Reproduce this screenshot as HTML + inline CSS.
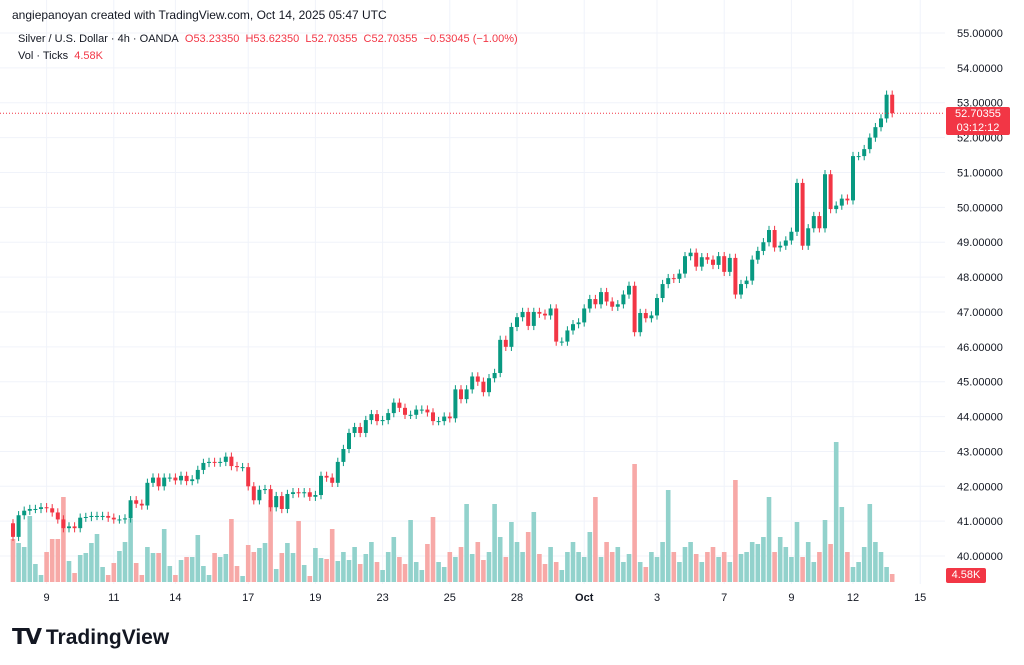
<!DOCTYPE html>
<html><head><meta charset="utf-8">
<style>
body{margin:0;background:#fff;font-family:"Liberation Sans",sans-serif;}
#wrap{position:relative;width:1024px;height:665px;overflow:hidden;background:#fff;}
.t{position:absolute;white-space:nowrap;}
</style></head>
<body>
<div id="wrap">
<svg id="chart" width="1024" height="665" style="position:absolute;left:0;top:0"></svg>
<div class="t" style="left:12px;top:8px;font-size:12px;color:#131722">angiepanoyan created with TradingView.com, Oct 14, 2025 05:47 UTC</div>
<div class="t" style="left:18px;top:33px;font-size:11px;color:#131722">Silver / U.S. Dollar · 4h · OANDA&nbsp; <span style="color:#f23645">O</span><span style="color:#f23645">53.23350</span>&nbsp; <span style="color:#f23645">H53.62350</span>&nbsp; <span style="color:#f23645">L52.70355</span>&nbsp; <span style="color:#f23645">C52.70355&nbsp; −0.53045 (−1.00%)</span></div>
<div class="t" style="left:18px;top:50px;font-size:11px;color:#131722">Vol · Ticks&nbsp; <span style="color:#f23645">4.58K</span></div>
<div class="t" style="left:946px;top:107px;width:64px;height:28px;background:#f23645;color:#fff;font-size:11px;text-align:center;line-height:14px;border-radius:2px">52.70355<br>03:12:12</div>
<div class="t" style="left:946px;top:568px;width:40px;height:15px;background:#f23645;color:#fff;font-size:11px;text-align:center;line-height:15px;border-radius:2px">4.58K</div>
<div class="t" style="left:12px;top:624px;font-size:21px;font-weight:bold;color:#131722"><span style="font-size:22px;letter-spacing:-2px">𝗧𝗩</span>&nbsp;TradingView</div>
</div>
<script>
const closes=[40.55,41.17,41.3,41.35,41.35,41.4,41.37,41.25,41.05,40.8,40.85,40.8,41.1,41.12,41.15,41.15,41.15,41.1,41.05,41.05,41.08,41.6,41.5,41.45,42.1,42.25,42.0,42.25,42.25,42.17,42.3,42.15,42.2,42.47,42.67,42.7,42.68,42.7,42.85,42.58,42.55,42.55,42.0,41.6,41.9,41.92,41.4,41.72,41.35,41.78,41.83,41.8,41.83,41.7,41.75,42.3,42.25,42.1,42.7,43.07,
43.53,43.7,43.53,43.9,44.07,43.87,43.9,44.1,44.4,44.25,44.05,44.05,44.2,44.2,44.12,43.87,43.87,44.0,43.95,44.78,44.5,44.78,45.15,45.0,44.7,45.1,45.25,46.2,46.0,46.57,46.85,47.0,46.6,47.0,46.95,46.9,47.1,46.15,46.15,46.47,46.65,46.7,47.1,47.37,47.22,47.57,47.3,47.15,47.22,47.5,47.75,46.42,46.97,46.82,
46.9,47.4,47.8,47.97,47.95,48.1,48.6,48.7,48.3,48.57,48.5,48.35,48.6,48.15,48.55,47.5,47.8,47.9,48.5,48.75,49.0,49.35,48.85,48.9,49.05,49.3,50.7,48.9,49.4,49.75,49.4,50.95,49.95,50.05,50.25,50.2,51.47,51.47,51.67,52.0,52.3,52.55,53.23,52.70];
const firstOpen=40.94;
const volumes=[43,39,35,66,18,7,30,43,43,85,21,9,27,29,39,48,15,7,19,31,40,63,19,7,35,29,29,53,16,7,22,25,25,47,16,7,29,25,28,63,16,6,37,30,34,39,82,13,29,39,29,61,17,6,34,24,23,53,21,30,
22,35,18,28,40,20,12,30,45,25,18,62,20,12,38,65,20,15,30,25,35,78,28,40,22,30,78,45,25,60,40,30,50,70,28,18,35,20,12,30,40,30,25,50,85,25,40,30,35,20,28,118,20,15,30,
25,40,92,30,20,35,40,28,20,30,35,25,30,20,102,28,30,40,38,45,85,30,45,35,25,60,25,40,20,30,62,38,140,75,30,15,20,35,78,40,30,15,8];
const priceTicks=[55,54,53,52,51,50,49,48,47,46,45,44,43,42,41,40];
const dateLabels=["9","11","14","17","19","23","25","28","Oct","3","7","9","12","15"];
const dateIdx=[6,18,29,42,54,66,78,90,102,115,127,139,150,162];

const svg=document.getElementById('chart');const NS='http://www.w3.org/2000/svg';
const yP=p=>33+(55-p)*34.87;
const xI=i=>13+i*5.6;
const yV=v=>582-v;
function mk(tag,a){const e=document.createElementNS(NS,tag);for(const k in a)e.setAttribute(k,a[k]);svg.appendChild(e);return e;}
priceTicks.forEach(p=>{const g=mk('line',{x1:0,x2:945,y1:yP(p),y2:yP(p),stroke:'#f0f3fa'});


const t=mk('text',{x:957,y:yP(p)+4,'font-size':11,fill:'#131722','font-family':'Liberation Sans'});t.textContent=p.toFixed(5);

});
dateLabels.forEach((d,k)=>{const x=xI(dateIdx[k]);const g=mk('line',{x1:x,x2:x,y1:0,y2:584,stroke:'#f0f3fa'});


const t=mk('text',{x:x,y:601,'font-size':11,fill:'#131722','text-anchor':'middle','font-family':'Liberation Sans','font-weight':d==='Oct'?'bold':'normal'});t.textContent=d;

});
volumes.forEach((v,i)=>{const o=i?closes[i-1]:firstOpen;const up=closes[i]>=o;
const r=mk('rect',{x:xI(i)-2.3,y:yV(v),width:4.6,height:v,fill:up?'#92d2cc':'#f7a9a7'});

});
closes.forEach((c,i)=>{const o=i?closes[i-1]:firstOpen;const up=c>=o;const col=up?'#089981':'#f23645';
const hi=Math.max(o,c)+0.12,lo=Math.min(o,c)-0.12;
const w=mk('line',{x1:xI(i),x2:xI(i),y1:yP(hi),y2:yP(lo),stroke:col,'stroke-width':1});


const top=yP(Math.max(o,c));const h=Math.max(1,yP(Math.min(o,c))-top);
const b=mk('rect',{x:xI(i)-2,y:top,width:4,height:h,fill:col});

});
const last=closes[closes.length-1];
const pl=mk('line',{x1:0,x2:945,y1:yP(last),y2:yP(last),stroke:'#f23645','stroke-dasharray':'1 2'});


</script>
</body></html>
